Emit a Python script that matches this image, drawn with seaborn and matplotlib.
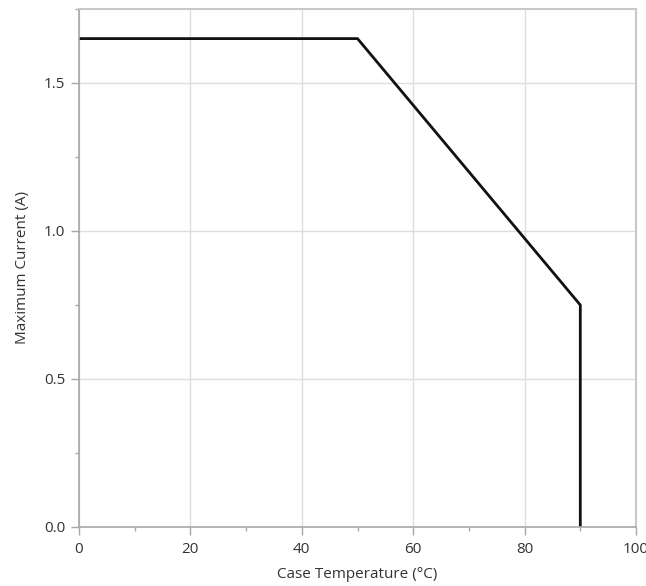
import matplotlib
matplotlib.use("Agg")
import matplotlib.pyplot as plt
import seaborn as sns
import pandas as pd
from matplotlib.ticker import MultipleLocator

temperature = [0, 50, 90, 90]
current = [1.65, 1.65, 0.75, 0.0]
x_ticks = [0, 20, 40, 60, 80, 100]
y_ticks = [0.0, 0.5, 1.0, 1.5]

sns.set_theme(style="white")
plt.rcParams['font.family'] = ['Open Sans', 'DejaVu Sans']

df = pd.DataFrame({"temp": temperature, "cur": current})

fig = plt.figure(figsize=(6.46, 5.86), dpi=100)
ax = fig.add_axes([79/646, 59/586, (636-79)/646, (527-9)/586])

sns.lineplot(data=df, x="temp", y="cur", ax=ax, color="#111111", linewidth=2.0,
             sort=False, estimator=None)

ax.set_xlim(0, 100)
ax.set_ylim(0, 1.75)
ax.set_xticks(x_ticks)
ax.set_yticks(y_ticks)
ax.set_xticklabels([str(v) for v in x_ticks])
ax.set_yticklabels([f"{v:.1f}" for v in y_ticks])
ax.xaxis.set_minor_locator(MultipleLocator(10))
ax.yaxis.set_minor_locator(MultipleLocator(0.25))

ax.grid(True, which="major", color="#dddddd", linewidth=1.0)
ax.set_axisbelow(True)

for side in ["left", "bottom"]:
    ax.spines[side].set_color("#a8a8a8")
    ax.spines[side].set_linewidth(1.2)
for side in ["top", "right"]:
    ax.spines[side].set_color("#c8c8c8")
    ax.spines[side].set_linewidth(1.5)

ax.tick_params(which="major", direction="out", length=6, width=1, color="#a8a8a8",
               labelsize=11, labelcolor="#333333", bottom=True, left=True)
ax.tick_params(axis="x", which="major", pad=5)
ax.tick_params(axis="y", which="major", pad=4)
ax.tick_params(which="minor", direction="out", length=3, width=1, color="#a8a8a8",
               bottom=True, left=True)

ax.set_xlabel("Case Temperature (°C)", fontsize=11, color="#333333", labelpad=7)
ax.set_ylabel("Maximum Current (A)", fontsize=11, color="#333333", labelpad=10)

fig.savefig("out.png", dpi=100)
